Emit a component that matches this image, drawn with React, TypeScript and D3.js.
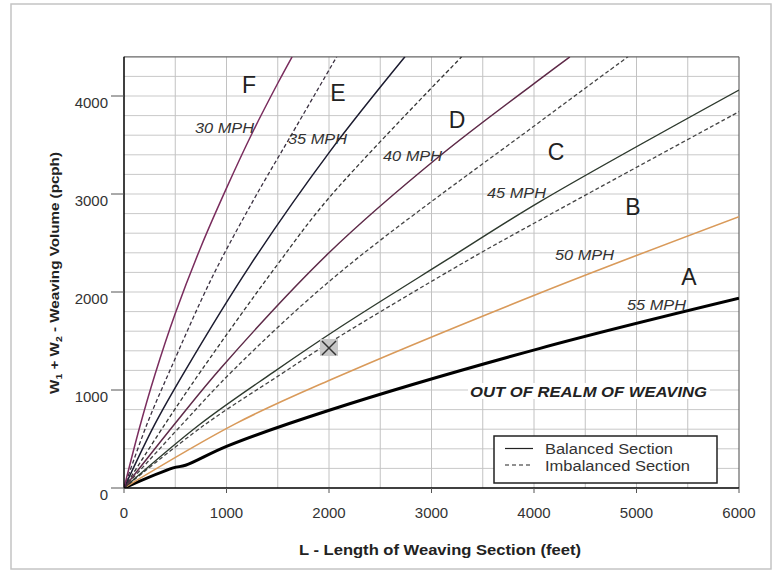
import React from "react";
import * as d3 from "d3";

// ---- data (L in feet, V in pcph) ----
const L_S30 = [0, 150, 300, 500, 750, 1000, 1250, 1500, 1640];
const V_S30 = [0, 610, 1150, 1780, 2460, 3060, 3620, 4130, 4400];
const L_D30 = [0, 220, 450, 860, 1270, 1620, 2075];
const V_D30 = [0, 640, 1204, 2150, 2950, 3580, 4400];
const L_S35 = [0, 300, 600, 1229, 2010, 2741];
const V_S35 = [0, 650, 1204, 2270, 3435, 4400];
const L_D35 = [0, 384, 758, 1490, 2010, 3294];
const V_D35 = [0, 626, 1204, 2270, 2973, 4400];
const L_S40 = [0, 500, 950, 2000, 3083, 4156, 4350];
const V_S40 = [0, 660, 1230, 2400, 3390, 4248, 4400];
const L_D40 = [0, 576, 1083, 2107, 4100, 4917];
const V_D40 = [0, 660, 1220, 2200, 3770, 4400];
const L_S45 = [0, 741, 1455, 2107, 3148, 4059, 6000];
const V_S45 = [0, 650, 1180, 1640, 2327, 2922, 4061];
const L_D45 = [0, 780, 1530, 2000, 3359, 4059, 6000];
const V_D45 = [0, 640, 1160, 1480, 2327, 2735, 3840];
const L_S50 = [0, 1099, 2010, 4059, 6000];
const V_S50 = [0, 662, 1102, 1990, 2769];
const L_S55 = [0, 480, 600, 1000, 2010, 4059, 6000];
const V_S55 = [0, 205, 232, 425, 796, 1425, 1936];

const xTicks = [0, 1000, 2000, 3000, 4000, 5000, 6000];
const yTicks = [0, 1000, 2000, 3000, 4000];

const zoneNames = ["F", "E", "D", "C", "B", "A"];
const zoneL = [1220, 2088, 3249, 4215, 4966, 5512];
const zoneV = [4031, 3949, 3673, 3347, 2786, 2071];

const speedNames = ["30 MPH", "35 MPH", "40 MPH", "45 MPH", "50 MPH", "55 MPH"];
const speedL = [693, 1600, 2527, 3541, 4205, 4907];
const speedV = [3622, 3510, 3337, 2959, 2327, 1816];

const markL = 2000;
const markV = 1429;

const FONT = "'Liberation Sans', Arial, Helvetica, sans-serif";

export default function App() {
  const W = 783, H = 573;
  const x = d3.scaleLinear().domain([0, 6000]).range([124, 739]);
  const y = d3.scaleLinear().domain([0, 4400]).range([488, 56.8]);
  const [x0, x1] = x.range();
  const [y0, y1] = y.range();

  const series = [
    { L: L_S55, V: V_S55, color: "#000", w: 3, dash: null },
    { L: L_S50, V: V_S50, color: "#d99a5a", w: 1.6, dash: null },
    { L: L_D45, V: V_D45, color: "#444", w: 1.3, dash: "4,2.5" },
    { L: L_S45, V: V_S45, color: "#2e3a2e", w: 1.4, dash: null },
    { L: L_D40, V: V_D40, color: "#444", w: 1.3, dash: "4,2.5" },
    { L: L_S40, V: V_S40, color: "#5e2a48", w: 1.5, dash: null },
    { L: L_D35, V: V_D35, color: "#333", w: 1.3, dash: "4,2.5" },
    { L: L_S35, V: V_S35, color: "#1c1c30", w: 1.5, dash: null },
    { L: L_D30, V: V_D30, color: "#3a3040", w: 1.3, dash: "4,2.5" },
    { L: L_S30, V: V_S30, color: "#7a2d5e", w: 1.5, dash: null },
  ];

  const line = d3
    .line<[number, number]>()
    .x((d) => x(d[0]))
    .y((d) => y(d[1]))
    .curve(d3.curveCatmullRom.alpha(0.5));

  const vGrid = d3.range(500, 6000, 500);
  const hGrid = d3.range(200, 4400, 200);

  const mx = x(markL), my = y(markV);

  return (
    <svg
      width={W}
      height={H}
      style={{ position: "absolute", left: 0, top: 0, background: "#fff" }}
      fontFamily={FONT}
    >
      <rect x={11} y={4} width={760} height={565} fill="#fff" stroke="#c4c4c4" strokeWidth={1.5} />
      <defs>
        <clipPath id="plot">
          <rect x={x0} y={y1} width={x1 - x0} height={y0 - y1} />
        </clipPath>
      </defs>
      {/* grid */}
      {hGrid.map((v) => (
        <line key={"h" + v} x1={x0} x2={x1} y1={y(v)} y2={y(v)} stroke="#c9c9c9" strokeWidth={1} />
      ))}
      {vGrid.map((v) => (
        <line key={"v" + v} x1={x(v)} x2={x(v)} y1={y1} y2={y0} stroke="#c2c2c2" strokeWidth={1} />
      ))}
      {/* frame */}
      <line x1={x0} x2={x1} y1={y1} y2={y1} stroke="#666" strokeWidth={1.2} />
      <line x1={x1} x2={x1} y1={y1} y2={y0} stroke="#666" strokeWidth={1.2} />

      {/* out of realm label with white box */}
      <rect x={468} y={383} width={242} height={16} fill="#fff" />
      <text
        x={470}
        y={397}
        fontSize={14}
        fontWeight="bold"
        fontStyle="italic"
        fill="#222"
        textLength={237}
        lengthAdjust="spacingAndGlyphs"
      >
        OUT OF REALM OF WEAVING
      </text>

      {/* curves */}
      <g clipPath="url(#plot)">
        {series.map((s, i) => (
          <path
            key={i}
            d={line(s.L.map((l, j) => [l, s.V[j]] as [number, number])) || ""}
            fill="none"
            stroke={s.color}
            strokeWidth={s.w}
            strokeDasharray={s.dash || undefined}
          />
        ))}
      </g>

      {/* axes */}
      <line x1={x0} x2={x0} y1={y1} y2={y0} stroke="#000" strokeWidth={1.5} />
      <line x1={x0} x2={x1} y1={y0} y2={y0} stroke="#000" strokeWidth={1.5} />
      {yTicks.map((t) => (
        <g key={"yt" + t}>
          <line x1={x0 - 13} x2={x0} y1={y(t)} y2={y(t)} stroke="#555" strokeWidth={1} />
          <text x={108} y={y(t) + 12} fontSize={15} textAnchor="end" fill="#333">
            {t}
          </text>
        </g>
      ))}
      {xTicks.map((t) => (
        <g key={"xt" + t}>
          <line x1={x(t)} x2={x(t)} y1={y0} y2={y0 + 5} stroke="#555" strokeWidth={1} />
          <text x={x(t)} y={518} fontSize={15} textAnchor="middle" fill="#333">
            {t}
          </text>
        </g>
      ))}

      {/* marker */}
      <rect x={mx - 9} y={my - 9} width={18} height={17} fill="#c8c8c8" />
      <line x1={mx - 7} x2={mx + 7} y1={my - 7} y2={my + 7} stroke="#333" strokeWidth={1.5} />
      <line x1={mx - 7} x2={mx + 7} y1={my + 7} y2={my - 7} stroke="#333" strokeWidth={1.5} />

      {/* zone letters */}
      {zoneNames.map((n, i) => (
        <text key={n} x={x(zoneL[i])} y={y(zoneV[i])} fontSize={23} textAnchor="middle" fill="#222">
          {n}
        </text>
      ))}
      {/* speed labels */}
      {speedNames.map((n, i) => (
        <text
          key={n}
          x={x(speedL[i])}
          y={y(speedV[i])}
          fontSize={14}
          fontStyle="italic"
          fill="#333"
          textLength={59}
          lengthAdjust="spacingAndGlyphs"
        >
          {n}
        </text>
      ))}

      {/* legend */}
      <rect x={494} y={436} width={223} height={47} fill="#fff" stroke="#222" strokeWidth={1.5} />
      <line x1={505} x2={533} y1={448.5} y2={448.5} stroke="#222" strokeWidth={1.2} />
      <line x1={505} x2={533} y1={465} y2={465} stroke="#222" strokeWidth={1.2} strokeDasharray="4,3" />
      <text x={545} y={454} fontSize={14} fill="#333" textLength={128} lengthAdjust="spacingAndGlyphs">
        Balanced Section
      </text>
      <text x={545} y={471} fontSize={14} fill="#333" textLength={145} lengthAdjust="spacingAndGlyphs">
        Imbalanced Section
      </text>

      {/* axis titles */}
      <text
        x={440}
        y={555}
        fontSize={14}
        fontWeight="bold"
        textAnchor="middle"
        fill="#222"
        textLength={282}
        lengthAdjust="spacingAndGlyphs"
      >
        L - Length of Weaving Section (feet)
      </text>
      <text
        transform="translate(59,273) rotate(-90) scale(1.17,1)"
        fontSize={13}
        fontWeight="bold"
        textAnchor="middle"
        fill="#222"
      >
        W<tspan fontSize={9} dy={3}>1</tspan>
        <tspan dy={-3}> + W</tspan>
        <tspan fontSize={9} dy={3}>2</tspan>
        <tspan dy={-3}> - Weaving Volume (pcph)</tspan>
      </text>
    </svg>
  );
}
